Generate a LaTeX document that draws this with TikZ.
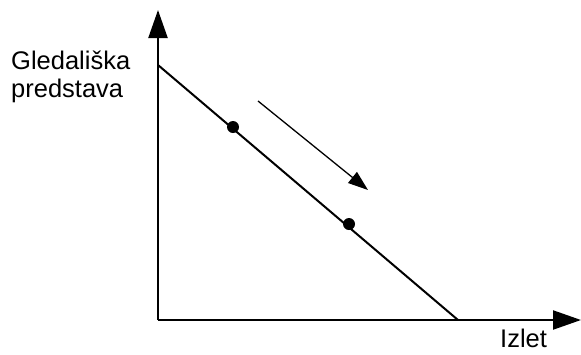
\documentclass[tikz,border=0pt]{standalone}
\usepackage{fontspec}
\setmainfont{Liberation Sans}
\usetikzlibrary{arrows.meta, positioning}

\begin{document}
\begin{tikzpicture}[x=1pt, y=-1pt,
  axis/.style={line width=2.2pt, -{Triangle[length=28pt, width=19pt]}},
  budget/.style={line width=2pt},
  shift arrow/.style={line width=1.3pt, -{Triangle[length=20pt, width=14pt]}},
  dot/.style={circle, fill, inner sep=0pt, minimum size=12pt},
  label/.style={inner sep=0pt, font=\fontsize{25.5}{28}\selectfont, align=left}]
  \useasboundingbox (0,0) rectangle (581,354);

  % Axes
  \coordinate (O) at (158,320);
  \coordinate (ytop) at (158,10);
  \coordinate (xend) at (581,320);
  \draw[axis] (O) -- (ytop);
  \draw[axis] (O) -- (xend);

  % Budget line
  \coordinate (A) at (158,65);
  \coordinate (B) at (458,320);
  \draw[budget] (A) -- (B);

  % Points on the line
  \node[dot] (p1) at (233,127) {};
  \node[dot] (p2) at (349,224) {};

  % Direction of movement
  \coordinate (s1) at (258,101);
  \coordinate (s2) at (368,190);
  \draw[shift arrow] (s1) -- (s2);

  % Labels
  \node[label, anchor=north west] (ylab) at (11,51) {Gledališka\\predstava};
  \node[label, anchor=base west] (xlab) at (500,347) {Izlet};
\end{tikzpicture}
\end{document}
